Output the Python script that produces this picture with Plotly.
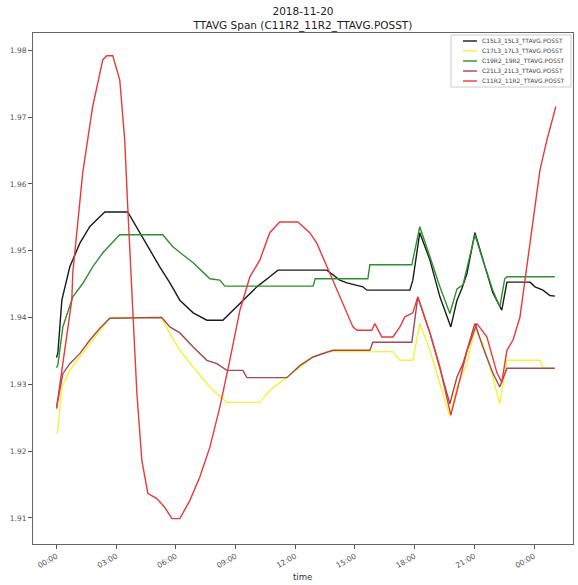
import pandas as pd
import plotly.graph_objects as go

BASE = pd.Timestamp("2018-11-20 00:00")

names = ["C15L3_15L3_TTAVG.POSST", "C17L3_17L3_TTAVG.POSST", "C19R2_19R2_TTAVG.POSST",
         "C21L3_21L3_TTAVG.POSST", "C11R2_11R2_TTAVG.POSST"]
colors = ["#1a1a1a", "#f7f03c", "#2f8f2f", "#a04a52", "#e83a3a"]

# hours after 2018-11-20 00:00
black_h = [0.0, 0.07, 0.27, 0.67, 1.17, 1.67, 2.18, 2.43, 3.58, 4.19, 4.69, 5.19, 5.70, 6.20, 6.87, 7.56,
           8.36, 8.86, 9.37, 10.07, 10.72, 11.13, 13.59, 14.24, 14.60, 15.40, 15.60, 17.76, 17.91, 18.26,
           18.77, 19.27, 19.82, 20.13, 20.38, 20.63, 21.03, 21.43, 21.93, 22.38, 22.64, 23.80, 24.05,
           24.45, 24.80, 25.05]
black_v = [1.9340, 1.9347, 1.9426, 1.9476, 1.9511, 1.9536, 1.9551, 1.9558, 1.9558, 1.9527, 1.9501, 1.9476,
           1.9452, 1.9426, 1.9407, 1.9396, 1.9396, 1.9411, 1.9426, 1.9446, 1.9461, 1.9471, 1.9471, 1.9456,
           1.9452, 1.9446, 1.9441, 1.9441, 1.9456, 1.9527, 1.9486, 1.9431, 1.9386, 1.9426, 1.9444, 1.9466,
           1.9527, 1.9486, 1.9437, 1.9411, 1.9453, 1.9453, 1.9446, 1.9441, 1.9433, 1.9432]

yellow_h = [0.0, 0.07, 0.27, 0.67, 1.17, 1.67, 2.18, 2.58, 2.78, 5.29, 5.70, 6.20, 6.87, 7.56, 8.06, 8.56,
            10.22, 10.72, 11.38, 12.23, 12.89, 13.59, 16.91, 17.26, 17.91, 18.26, 18.77, 19.27, 19.77,
            20.13, 20.63, 21.03, 21.43, 21.93, 22.28, 22.64, 24.30, 24.45, 25.05]
yellow_v = [1.9226, 1.9231, 1.9296, 1.9321, 1.9341, 1.9361, 1.9381, 1.9396, 1.9400, 1.9400, 1.9376, 1.9351,
            1.9326, 1.9301, 1.9286, 1.9273, 1.9273, 1.9291, 1.9306, 1.9326, 1.9341, 1.9349, 1.9349, 1.9336,
            1.9336, 1.9391, 1.9351, 1.9301, 1.9252, 1.9296, 1.9331, 1.9384, 1.9361, 1.9311, 1.9271, 1.9336,
            1.9336, 1.9324, 1.9324]

green_h = [0.0, 0.07, 0.32, 0.82, 1.32, 1.82, 2.33, 2.78, 3.18, 5.34, 5.85, 6.35, 6.87, 7.36, 7.71, 8.21,
           8.46, 12.90, 13.00, 15.65, 15.75, 17.86, 18.26, 18.77, 19.27, 19.77, 20.13, 20.43, 21.03, 21.43,
           21.93, 22.28, 22.53, 22.64, 25.05]
green_v = [1.9325, 1.9329, 1.9386, 1.9431, 1.9451, 1.9476, 1.9497, 1.9512, 1.9524, 1.9524, 1.9506, 1.9494,
           1.9482, 1.9468, 1.9458, 1.9456, 1.9447, 1.9447, 1.9458, 1.9458, 1.9479, 1.9479, 1.9536, 1.9491,
           1.9446, 1.9406, 1.9443, 1.9449, 1.9524, 1.9486, 1.9441, 1.9416, 1.9458, 1.9461, 1.9461]

brown_h = [0.0, 0.32, 0.67, 1.17, 1.67, 2.18, 2.68, 5.29, 5.70, 6.20, 6.87, 7.56, 8.06, 8.56, 9.37, 9.57,
           11.58, 12.23, 12.89, 13.89, 15.75, 15.90, 17.86, 18.16, 18.77, 19.27, 19.77, 20.13, 20.43,
           21.03, 21.43, 21.93, 22.28, 22.64, 25.05]
brown_v = [1.9264, 1.9316, 1.9331, 1.9346, 1.9366, 1.9384, 1.9399, 1.9400, 1.9386, 1.9377, 1.9356, 1.9336,
           1.9331, 1.9321, 1.9321, 1.9310, 1.9310, 1.9328, 1.9341, 1.9351, 1.9351, 1.9363, 1.9363, 1.9431,
           1.9377, 1.9326, 1.9271, 1.9311, 1.9331, 1.9391, 1.9356, 1.9317, 1.9296, 1.9324, 1.9324]

red_h = [0.0, 0.77, 0.82, 1.32, 1.82, 2.33, 2.53, 2.83, 3.18, 3.43, 3.58, 3.74, 3.84, 4.04, 4.29, 4.59,
         5.04, 5.44, 5.80, 6.20, 6.70, 7.20, 7.71, 8.21, 8.71, 9.22, 9.72, 10.22, 10.72, 11.22, 12.13,
         12.73, 13.09, 13.59, 14.24, 14.90, 15.10, 15.85, 16.00, 16.35, 16.91, 17.26, 17.51, 17.91,
         18.16, 18.77, 19.27, 19.82, 20.13, 20.63, 21.13, 21.63, 22.13, 22.38, 22.64, 22.94, 23.29,
         23.54, 23.95, 24.30, 24.65, 25.10]
red_v = [1.9264, 1.9426, 1.9467, 1.9617, 1.9716, 1.9786, 1.9792, 1.9792, 1.9756, 1.9666, 1.9566, 1.9467,
         1.9399, 1.9287, 1.9186, 1.9137, 1.9129, 1.9116, 1.9099, 1.9099, 1.9126, 1.9161, 1.9206, 1.9266,
         1.9336, 1.9411, 1.9461, 1.9486, 1.9527, 1.9543, 1.9543, 1.9527, 1.9511, 1.9476, 1.9431, 1.9386,
         1.9381, 1.9381, 1.9391, 1.9371, 1.9371, 1.9386, 1.9401, 1.9407, 1.9431, 1.9377, 1.9326, 1.9254,
         1.9290, 1.9350, 1.9391, 1.9371, 1.9318, 1.9303, 1.9351, 1.9366, 1.9400, 1.9456, 1.9550, 1.9621,
         1.9666, 1.9716]

series_h = [black_h, yellow_h, green_h, brown_h, red_h]
series_v = [black_v, yellow_v, green_v, brown_v, red_v]

y_ticks = [1.91, 1.92, 1.93, 1.94, 1.95, 1.96, 1.97, 1.98]
x_tick_hours = [0, 3, 6, 9, 12, 15, 18, 21, 24]
x_tick_labels = ["00:00", "03:00", "06:00", "09:00", "12:00", "15:00", "18:00", "21:00", "00:00"]

W, H = 578, 585
ML, MR, MT, MB = 33, 5, 33, 41

fig = go.Figure()
for name, col, hs, vs in zip(names, colors, series_h, series_v):
    t = BASE + pd.to_timedelta(hs, unit="h")
    fig.add_trace(go.Scatter(x=t, y=vs, mode="lines", name=name,
                             line=dict(color=col, width=1.4), showlegend=False))

# compact legend box (matplotlib-style), top-right inside the axes
pw, ph = W - ML - MR, H - MT - MB
def px_x(p):
    return (p - ML) / pw
def px_y(p):
    return 1 - (p - MT) / ph

fig.add_shape(type="rect", xref="paper", yref="paper",
              x0=px_x(451), x1=px_x(571), y0=px_y(87), y1=px_y(35),
              line=dict(color="#cccccc", width=1), fillcolor="white", layer="above")
for i, (name, col) in enumerate(zip(names, colors)):
    yy = px_y(41 + 10 * i)
    fig.add_shape(type="line", xref="paper", yref="paper",
                  x0=px_x(463), x1=px_x(477), y0=yy, y1=yy,
                  line=dict(color=col, width=1.4), layer="above")
    fig.add_annotation(xref="paper", yref="paper", x=px_x(480), y=yy,
                       xanchor="left", yanchor="middle", text=name, showarrow=False,
                       font=dict(size=6, color="#444"))

# x-axis label
fig.add_annotation(xref="paper", yref="paper", x=px_x(302), y=px_y(577),
                   xanchor="center", yanchor="middle", text="time", showarrow=False,
                   font=dict(size=8.5, color="#333"))

tickvals = [BASE + pd.Timedelta(hours=h) for h in x_tick_hours]

fig.update_layout(
    width=W, height=H,
    margin=dict(l=ML, r=MR, t=MT, b=MB, autoexpand=False),
    paper_bgcolor="white", plot_bgcolor="white",
    font=dict(family="DejaVu Sans", color="#333", size=9),
    title=dict(text="2018-11-20<br>TTAVG Span (C11R2_11R2_TTAVG.POSST)",
               x=0.5, xanchor="center", xref="paper", yref="container",
               y=1, yanchor="top", pad=dict(t=15),
               font=dict(size=10.5, color="#222")),
    showlegend=False,
    xaxis=dict(
        range=[BASE - pd.Timedelta(hours=1.18), BASE + pd.Timedelta(hours=25.96)],
        tickvals=tickvals, ticktext=x_tick_labels, tickangle=-30,
        ticks="outside", ticklen=4, tickcolor="#555",
        showline=True, linecolor="#666", linewidth=1, mirror=True,
        showgrid=False, zeroline=False, automargin=False,
        tickfont=dict(size=7.5, color="#555"),
    ),
    yaxis=dict(
        range=[1.9061, 1.9826],
        tickvals=y_ticks, ticktext=[f"{v:.2f}" for v in y_ticks],
        ticks="outside", ticklen=4, tickcolor="#555",
        showline=True, linecolor="#666", linewidth=1, mirror=True,
        showgrid=False, zeroline=False, automargin=False,
        tickfont=dict(size=7.5, color="#555"),
    ),
)

fig.write_html("out.html", config={"displayModeBar": False},
               post_script="document.body.style.margin='0';document.body.style.overflow='hidden';")
